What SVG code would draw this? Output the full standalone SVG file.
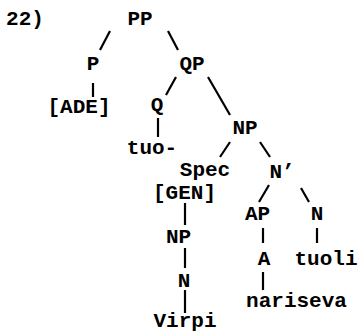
<svg xmlns="http://www.w3.org/2000/svg" width="364" height="332" viewBox="0 0 364 332">
<style>
text{font-family:"Liberation Mono","Courier New",monospace;font-weight:bold;font-size:21px;fill:#000;text-anchor:middle}
.e line{stroke:#000;stroke-width:2.2;stroke-linecap:butt}
</style>
<rect width="364" height="332" fill="#fff"/>
<g id="label"><text x="25" y="25">22)</text></g>
<g id="n-PP"><text x="140" y="25">PP</text></g>
<g id="n-P"><text x="93" y="70">P</text></g>
<g id="n-QP"><text x="192" y="70">QP</text></g>
<g id="n-ADE"><text x="79" y="113">[ADE]</text></g>
<g id="n-Q"><text x="157" y="111">Q</text></g>
<g id="n-tuo"><text x="152" y="154">tuo-</text></g>
<g id="n-NP1"><text x="245" y="134">NP</text></g>
<g id="n-Spec"><text x="205" y="176">Spec</text></g>
<g id="n-Nbar"><text x="282" y="178">N’</text></g>
<g id="n-GEN"><text x="184.5" y="199">[GEN]</text></g>
<g id="n-AP"><text x="257.5" y="220">AP</text></g>
<g id="n-N1"><text x="317" y="220">N</text></g>
<g id="n-NP2"><text x="178.5" y="243">NP</text></g>
<g id="n-A"><text x="264" y="265">A</text></g>
<g id="n-tuoli"><text x="326" y="265">tuoli</text></g>
<g id="n-N2"><text x="184" y="287">N</text></g>
<g id="n-nariseva"><text x="296.5" y="307">nariseva</text></g>
<g id="n-Virpi"><text x="185" y="327">Virpi</text></g>
<g id="edges" class="e">
<line x1="110" y1="31" x2="100" y2="50"/>
<line x1="168" y1="31" x2="178" y2="50"/>
<line x1="93" y1="83" x2="93" y2="97"/>
<line x1="176" y1="77" x2="166" y2="95"/>
<line x1="208" y1="77" x2="230" y2="115"/>
<line x1="158" y1="118" x2="158" y2="137"/>
<line x1="230" y1="142" x2="220" y2="157"/>
<line x1="260" y1="142" x2="270" y2="157"/>
<line x1="269" y1="185" x2="259" y2="202"/>
<line x1="301" y1="188" x2="309" y2="202"/>
<line x1="185" y1="203" x2="185" y2="225"/>
<line x1="185" y1="248" x2="185" y2="268"/>
<line x1="185" y1="290" x2="185" y2="313"/>
<line x1="263" y1="228" x2="263" y2="243"/>
<line x1="317" y1="228" x2="317" y2="243"/>
<line x1="263" y1="272" x2="263" y2="290"/>
</g>
</svg>
